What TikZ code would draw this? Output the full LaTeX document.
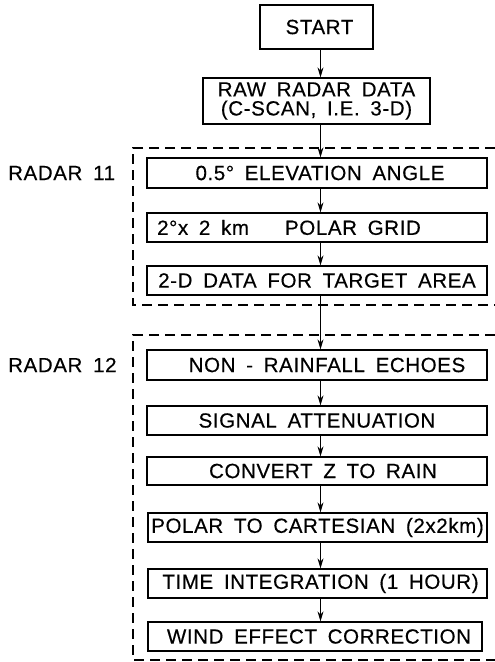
\documentclass[tikz,border=0pt]{standalone}
\usepackage{fontspec}
\setmainfont{Liberation Sans}[LetterSpace=3, WordSpace=1.7, FakeBold=0.4]
\usetikzlibrary{arrows.meta}
\begin{document}
\begin{tikzpicture}[x=1pt,y=-1pt,
  box/.style={draw, line width=1.3pt, inner sep=0pt, font=\fontsize{20.5}{23}\selectfont},
  lbl/.style={inner sep=0pt, font=\fontsize{20.5}{23}\selectfont},
  grp/.style={line width=1.2pt, dash pattern=on 10pt off 6pt},
  arr/.style={line width=0.9pt, -{Stealth[length=10pt,width=6pt]}}]
\useasboundingbox (0,0) rectangle (495,662);
\coordinate (ax) at (320.5,0);
% boxes
\node[box, minimum width=113pt, minimum height=44pt] (start) at (316.5,27) {\hspace*{6pt}START};
\node[box, minimum width=227pt, minimum height=46pt, align=center] (raw) at (316.5,101) {RAW RADAR DATA\\[-4pt](C-SCAN, I.E. 3-D)};
\node[box, minimum width=340pt, minimum height=30pt] (b1) at (317,173) {\hspace*{6pt}0.5° ELEVATION ANGLE};
\node[box, minimum width=340pt, minimum height=29pt] (b2) at (317,227.5) {2°x 2 km\hspace*{36pt}POLAR GRID\hspace*{56pt}};
\node[box, minimum width=340pt, minimum height=29pt] (b3) at (317,280.5) {2-D DATA FOR TARGET AREA};
\node[box, minimum width=340pt, minimum height=30pt] (c1) at (317,365) {\hspace*{20pt}NON - RAINFALL ECHOES};
\node[box, minimum width=340pt, minimum height=29pt] (c2) at (317,420.5) {SIGNAL ATTENUATION};
\node[box, minimum width=340pt, minimum height=28pt] (c3) at (317,471) {\hspace*{12pt}CONVERT Z TO RAIN};
\node[box, minimum width=339pt, minimum height=29pt] (c4) at (317.5,527.5) {POLAR TO CARTESIAN (2x2km)};
\node[box, minimum width=339pt, minimum height=29pt] (c5) at (317.5,583.5) {\hspace*{6pt}TIME INTEGRATION (1 HOUR)};
\node[box, minimum width=334pt, minimum height=29pt] (c6) at (315,636.5) {\hspace*{8pt}WIND EFFECT CORRECTION};
% labels
\node[lbl, anchor=west] (r11) at (8,173) {RADAR 11};
\node[lbl, anchor=west] (r12) at (8,365) {RADAR 12};
% dashed groups
\draw[grp] (495,148) -- (133,148) -- (133,305) -- (495,305);
\draw[grp] (495,335) -- (133,335) -- (133,660) -- (495,660);
% arrows
\draw[arr] (start.south -| ax) -- (raw.north -| ax);
\draw[arr] (raw.south -| ax) -- (b1.north -| ax);
\draw[arr] (b1.south -| ax) -- (b2.north -| ax);
\draw[arr] (b2.south -| ax) -- (b3.north -| ax);
\draw[arr] (b3.south -| ax) -- (c1.north -| ax);
\draw[arr] (c1.south -| ax) -- (c2.north -| ax);
\draw[arr] (c2.south -| ax) -- (c3.north -| ax);
\draw[arr] (c3.south -| ax) -- (c4.north -| ax);
\draw[arr] (c4.south -| ax) -- (c5.north -| ax);
\draw[arr] (c5.south -| ax) -- (c6.north -| ax);
\end{tikzpicture}
\end{document}
